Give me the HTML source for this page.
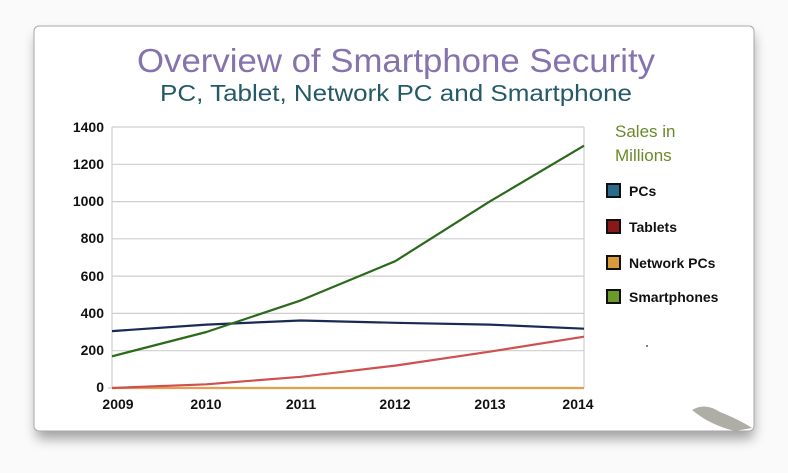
<!DOCTYPE html>
<html><head><meta charset="utf-8"><style>
html,body{margin:0;padding:0;width:788px;height:473px;background:#f4f4f4;overflow:hidden}
</style></head><body>
<svg width="788" height="473" xmlns="http://www.w3.org/2000/svg" font-family="'Liberation Sans',sans-serif">
<defs><filter id="s" x="-10%" y="-10%" width="120%" height="130%"><feGaussianBlur stdDeviation="6"/></filter></defs>
<rect x="0" y="0" width="788" height="473" fill="#fafafa"/>
<rect x="36" y="34" width="718" height="405" rx="6" fill="#000" opacity="0.35" filter="url(#s)"/>
<rect x="34" y="26" width="720" height="405" rx="5" fill="#fff" stroke="#aaa" stroke-width="1"/>
<text x="396" y="72" text-anchor="middle" font-size="33" fill="#8573ad" textLength="518" lengthAdjust="spacingAndGlyphs">Overview of Smartphone Security</text>
<text x="396" y="101" text-anchor="middle" font-size="23" fill="#245a68" textLength="472" lengthAdjust="spacingAndGlyphs">PC, Tablet, Network PC and Smartphone</text>
<g stroke="#cfcfcf" stroke-width="1.2">
<line x1="112" y1="127" x2="584" y2="127"/><line x1="112" y1="164.3" x2="584" y2="164.3"/>
<line x1="112" y1="201.6" x2="584" y2="201.6"/><line x1="112" y1="238.8" x2="584" y2="238.8"/>
<line x1="112" y1="276.1" x2="584" y2="276.1"/><line x1="112" y1="313.4" x2="584" y2="313.4"/>
<line x1="112" y1="350.7" x2="584" y2="350.7"/>
<line x1="112" y1="127" x2="112" y2="388"/><line x1="584" y1="127" x2="584" y2="388"/>
<line x1="108" y1="388" x2="584" y2="388"/>
</g>
<g font-size="14" font-weight="bold" fill="#111" text-anchor="end">
<text x="104" y="132">1400</text><text x="104" y="169">1200</text><text x="104" y="206">1000</text>
<text x="104" y="243">800</text><text x="104" y="281">600</text><text x="104" y="318">400</text>
<text x="104" y="355">200</text><text x="104" y="392">0</text>
</g>
<g font-size="14" font-weight="bold" fill="#111" text-anchor="middle">
<text x="118" y="409">2009</text><text x="206" y="409">2010</text><text x="301" y="409">2011</text>
<text x="395" y="409">2012</text><text x="490" y="409">2013</text><text x="578" y="409">2014</text>
</g>
<g fill="none" stroke-width="2.2" stroke-linejoin="round">
<polyline stroke="#e0a050" points="112,388 584,388"/>
<polyline stroke="#d05050" points="112,388 206.4,384.3 300.8,376.8 395.2,365.6 489.6,351.7 584,336.7"/>
<polyline stroke="#1a2a55" points="112,331.1 206.4,324.6 300.8,320.5 395.2,322.8 489.6,324.6 584,328.7"/>
<polyline stroke="#2a6a1a" points="112,356.3 206.4,332 300.8,300.4 395.2,261.2 489.6,201.6 584,145.7"/>
</g>
<text x="615" y="137" font-size="17" fill="#6a8a2a">Sales in</text>
<text x="615" y="161" font-size="17" fill="#6a8a2a">Millions</text>
<g stroke="#111" stroke-width="2">
<rect x="607" y="184" width="13" height="13" fill="#2a6a8a"/>
<rect x="607" y="220" width="13" height="13" fill="#8a1818"/>
<rect x="607" y="256" width="13" height="13" fill="#d89a3a"/>
<rect x="607" y="290" width="13" height="13" fill="#6a9a2a"/>
</g>
<g font-size="14" fill="#111" font-weight="bold">
<text x="629" y="196">PCs</text><text x="629" y="232">Tablets</text>
<text x="629" y="268">Network PCs</text><text x="629" y="302">Smartphones</text>
</g>
<circle cx="647" cy="346" r="1" fill="#555"/>
<path d="M692,410 Q705,402 720,412 Q740,420 752,428 L735,431 Q710,425 692,410Z" fill="#9a9890" opacity="0.8"/>
</svg>
</body></html>
